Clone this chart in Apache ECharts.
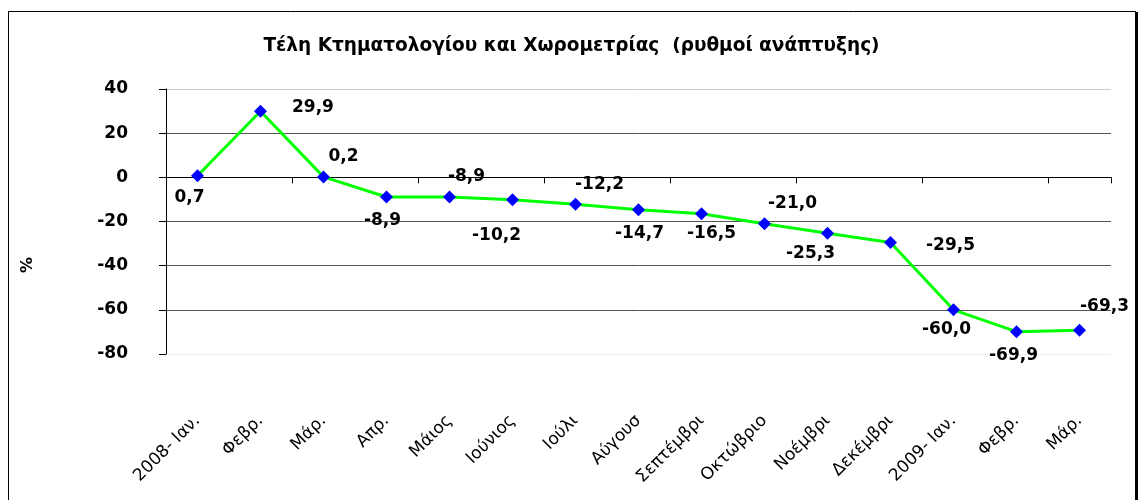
<!DOCTYPE html>
<html>
<head>
<meta charset="utf-8">
<script src="https://cdn.jsdelivr.net/npm/echarts@6/dist/echarts.min.js"></script>
<style>
  html, body { margin: 0; padding: 0; background: #fff; }
  #chart { width: 1143px; height: 500px; }
</style>
</head>
<body>
<div id="chart"></div>
<script>
// months (labels as they appear, cut off in the original)
const categories = ["2008- Ιαν.", "Φεβρ.", "Μάρ.", "Απρ.", "Μάιος", "Ιούνιος", "Ιούλι",
  "Αύγουσ", "Σεπτέμβρι", "Οκτώβριο", "Νοέμβρι", "Δεκέμβρι", "2009- Ιαν.", "Φεβρ.", "Μάρ."];
const values = [0.7, 29.9, 0.2, -8.9, -8.9, -10.2, -12.2, -14.7, -16.5, -21.0, -25.3, -29.5, -60.0, -69.9, -69.3];
const yTicks = [-80, -60, -40, -20, 0, 20, 40];

// where each value label sits around its marker
const labelPos = [
  ["bottom", [-8, 2]], ["right", [20, -4]], ["top", [20, 0]], ["bottom", [-4, 4]],
  ["top", [17, 0]], ["bottom", [-16, 16]], ["top", [24, 0]], ["bottom", [1, 4]],
  ["bottom", [10, 0]], ["top", [28, 0]], ["bottom", [-17, 0]], ["right", [24, 3]],
  ["bottom", [-7, 0]], ["bottom", [-3, 4]], ["top", [25, -4]]
];

const font = "DejaVu Sans";
const chart = echarts.init(document.getElementById("chart"));

chart.setOption({
  animation: false,
  textStyle: { fontFamily: font },
  title: {
    text: "Τέλη Κτηματολογίου και Χωρομετρίας  (ρυθμοί ανάπτυξης)",
    left: "center",
    top: 32,
    textStyle: { fontFamily: font, fontSize: 18.5, fontWeight: "bold", color: "#000" }
  },
  graphic: [{
    type: "rect",
    shape: { x: 8.5, y: 11.5, width: 1127, height: 520 },
    style: { fill: "none", stroke: "#000", lineWidth: 1 }
  }, {
    type: "line",
    shape: { x1: 1137, y1: 12, x2: 1137, y2: 500 },
    style: { stroke: "#000", lineWidth: 2 }
  }, {
    type: "text",
    x: 28,
    y: 265,
    rotation: Math.PI / 2,
    style: {
      text: "%",
      fontFamily: font,
      fontSize: 16,
      fontWeight: "bold",
      fill: "#000",
      align: "center",
      verticalAlign: "middle"
    }
  }],
  grid: { left: 166, right: 32, top: 89, bottom: 146 },
  xAxis: [{
    type: "category",
    data: categories,
    boundaryGap: true,
    axisLine: { onZero: true, lineStyle: { color: "#000", width: 1 } },
    axisTick: { show: true, length: 6, lineStyle: { color: "#000" } },
    axisLabel: { show: false },
    splitLine: { show: false }
  }, {
    type: "category",
    data: categories,
    position: "bottom",
    offset: 0,
    axisLine: { show: false },
    axisTick: { show: false },
    axisLabel: {
      rotate: 45,
      margin: 64,
      fontSize: 17,
      color: "#000",
      fontFamily: font
    }
  }],
  yAxis: {
    type: "value",
    min: yTicks[0],
    max: yTicks[yTicks.length - 1],
    interval: 20,
    axisLine: { show: true, lineStyle: { color: "#000" } },
    axisTick: { show: true, length: 7, lineStyle: { color: "#000" } },
    axisLabel: { fontSize: 17, fontWeight: "bold", color: "#000", margin: 38, fontFamily: font },
    splitLine: {
      show: true,
      lineStyle: { color: ["#eeeeee", "#555", "#555", "#555", "#555", "#555", "#cccccc"], width: 1 }
    }
  },
  series: [{
    type: "line",
    data: values.map((v, i) => ({
      value: v,
      label: { position: labelPos[i][0], offset: labelPos[i][1] }
    })),
    lineStyle: { color: "#00ff00", width: 3 },
    itemStyle: { color: "#0000ff" },
    symbol: "diamond",
    symbolSize: 13,
    showAllSymbol: true,
    label: {
      show: true,
      fontSize: 17,
      fontWeight: "bold",
      color: "#000",
      fontFamily: font,
      formatter: (p) => p.value.toFixed(1).replace(".", ",")
    }
  }]
});
</script>
</body>
</html>
